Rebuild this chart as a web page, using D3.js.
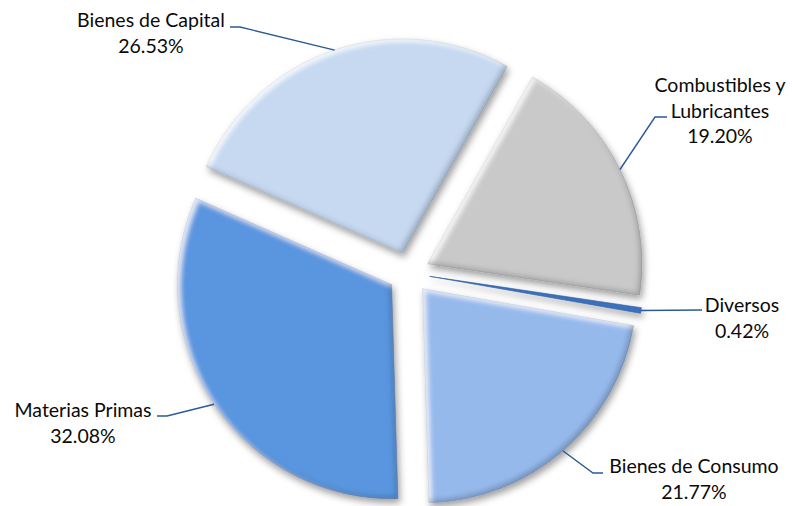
<!DOCTYPE html>
<html>
<head>
<meta charset="utf-8">
<script src="https://cdn.jsdelivr.net/npm/d3@7"></script>
<style>
  body { margin: 0; background: #fff; }
  text { font-family: Lato, "Noto Sans", sans-serif; font-size: 19.5px; fill: #0a0a0a; }
</style>
</head>
<body>
<svg></svg>
<script>
let width = 792, height = 506;

// data, in drawing order (clockwise from the first slice angle)
let categories = ["Bienes de Capital", "Combustibles y Lubricantes", "Diversos", "Bienes de Consumo", "Materias Primas"];
let values = [26.53, 19.20, 0.42, 21.77, 32.08];
let valueLabels = ["26.53%", "19.20%", "0.42%", "21.77%", "32.08%"];
let labelLines = [["Bienes de Capital"], ["Combustibles y", "Lubricantes"], ["Diversos"], ["Bienes de Consumo"], ["Materias Primas"]];
let colors = ["#c6d9f1", "#c9c9c9", "#3a70bd", "#96b9ec", "#5a96df"];

// label placement (text centre, first baseline, elbow of the leader line)
let labelLayout = [
    {x: 151, y: 27, elbow: [240, 27], end: [230, 27]},
    {x: 720, y: 92, elbow: [655, 117], end: [667, 117]},
    {x: 742, y: 312, elbow: [702, 310], end: [702, 310]},
    {x: 694, y: 473, elbow: [593, 473], end: [603, 473]},
    {x: 83, y: 417, elbow: [167, 416], end: [157, 416]}
];

let cx = 409, cy = 273, radius = 214, explode = 21;
let firstAngle = -66.2 * Math.PI / 180;

let svg = d3.select("svg")
    .attr("width", width)
    .attr("height", height)
    .attr("viewBox", "0 0 " + width + " " + height);

let defs = svg.append("defs");

function addShadow(f) {
    f.append("feGaussianBlur").attr("in", "SourceAlpha").attr("stdDeviation", 3.5).attr("result", "sb");
    f.append("feOffset").attr("in", "sb").attr("dx", 2).attr("dy", 4).attr("result", "so");
    f.append("feFlood").attr("flood-color", "#000").attr("flood-opacity", 0.38).attr("result", "sc");
    f.append("feComposite").attr("in", "sc").attr("in2", "so").attr("operator", "in").attr("result", "shadow");
}

let f = defs.append("filter").attr("id", "bevel")
    .attr("x", "-10%").attr("y", "-10%").attr("width", "120%").attr("height", "120%");
addShadow(f);
// soft edge bands
f.append("feGaussianBlur").attr("in", "SourceAlpha").attr("stdDeviation", 2.5).attr("result", "b");
f.append("feOffset").attr("in", "b").attr("dx", 3).attr("dy", 3).attr("result", "b1");
f.append("feComposite").attr("in", "SourceAlpha").attr("in2", "b1").attr("operator", "out").attr("result", "hiA");
f.append("feFlood").attr("flood-color", "#fff").attr("flood-opacity", 0.8).attr("result", "hiC");
f.append("feComposite").attr("in", "hiC").attr("in2", "hiA").attr("operator", "in").attr("result", "hi");
f.append("feOffset").attr("in", "b").attr("dx", -3).attr("dy", -3).attr("result", "b2");
f.append("feComposite").attr("in", "SourceAlpha").attr("in2", "b2").attr("operator", "out").attr("result", "loA");
f.append("feFlood").attr("flood-color", "#203040").attr("flood-opacity", 0.4).attr("result", "loC");
f.append("feComposite").attr("in", "loC").attr("in2", "loA").attr("operator", "in").attr("result", "lo");
let m = f.append("feMerge");
["shadow", "SourceGraphic", "hi", "lo"].forEach(n => m.append("feMergeNode").attr("in", n));

// thin slices only get the shadow
let f2 = defs.append("filter").attr("id", "flat")
    .attr("x", "-10%").attr("y", "-50%").attr("width", "120%").attr("height", "200%");
addShadow(f2);
let m2 = f2.append("feMerge");
["shadow", "SourceGraphic"].forEach(n => m2.append("feMergeNode").attr("in", n));

let pie = d3.pie()
    .sort(null)
    .value(d => d)
    .startAngle(firstAngle)
    .endAngle(firstAngle + 2 * Math.PI);

let arcs = pie(values);
let arc = d3.arc().innerRadius(0).outerRadius(radius);

let mid = d => (d.startAngle + d.endAngle) / 2;
let shift = d => [explode * Math.sin(mid(d)), -explode * Math.cos(mid(d))];

let g = svg.append("g").attr("transform", "translate(" + cx + "," + cy + ")");

g.selectAll("path.slice")
    .data(arcs)
    .enter()
    .append("path")
        .attr("class", "slice")
        .attr("transform", d => "translate(" + shift(d) + ")")
        .attr("d", arc)
        .attr("fill", (d, i) => colors[i])
        .attr("stroke", (d, i) => d3.color(colors[i]).darker(0.6))
        .attr("stroke-width", 0.6)
        .attr("filter", d => (d.endAngle - d.startAngle) < 0.1 ? "url(#flat)" : "url(#bevel)");

// leader lines: from the outer arc at mid angle to the label
svg.append("g")
    .selectAll("path")
    .data(arcs)
    .enter()
    .append("path")
        .attr("d", (d, i) => {
            let s = shift(d);
            let p = [cx + s[0] + radius * Math.sin(mid(d)), cy + s[1] - radius * Math.cos(mid(d))];
            let L = labelLayout[i];
            return d3.line()([p, L.elbow, L.end]);
        })
        .attr("fill", "none")
        .attr("stroke", "#2c5a94")
        .attr("stroke-width", 1.4);

let labels = svg.append("g")
    .selectAll("text")
    .data(arcs)
    .enter()
    .append("text")
        .attr("text-anchor", "middle")
        .attr("x", (d, i) => labelLayout[i].x)
        .attr("y", (d, i) => labelLayout[i].y);

labels.each(function(d, i) {
    let t = d3.select(this);
    labelLines[i].concat([valueLabels[i]]).forEach((line, k) => {
        t.append("tspan")
            .attr("x", labelLayout[i].x)
            .attr("dy", k === 0 ? 0 : 25.5)
            .text(line);
    });
});
</script>
</body>
</html>
